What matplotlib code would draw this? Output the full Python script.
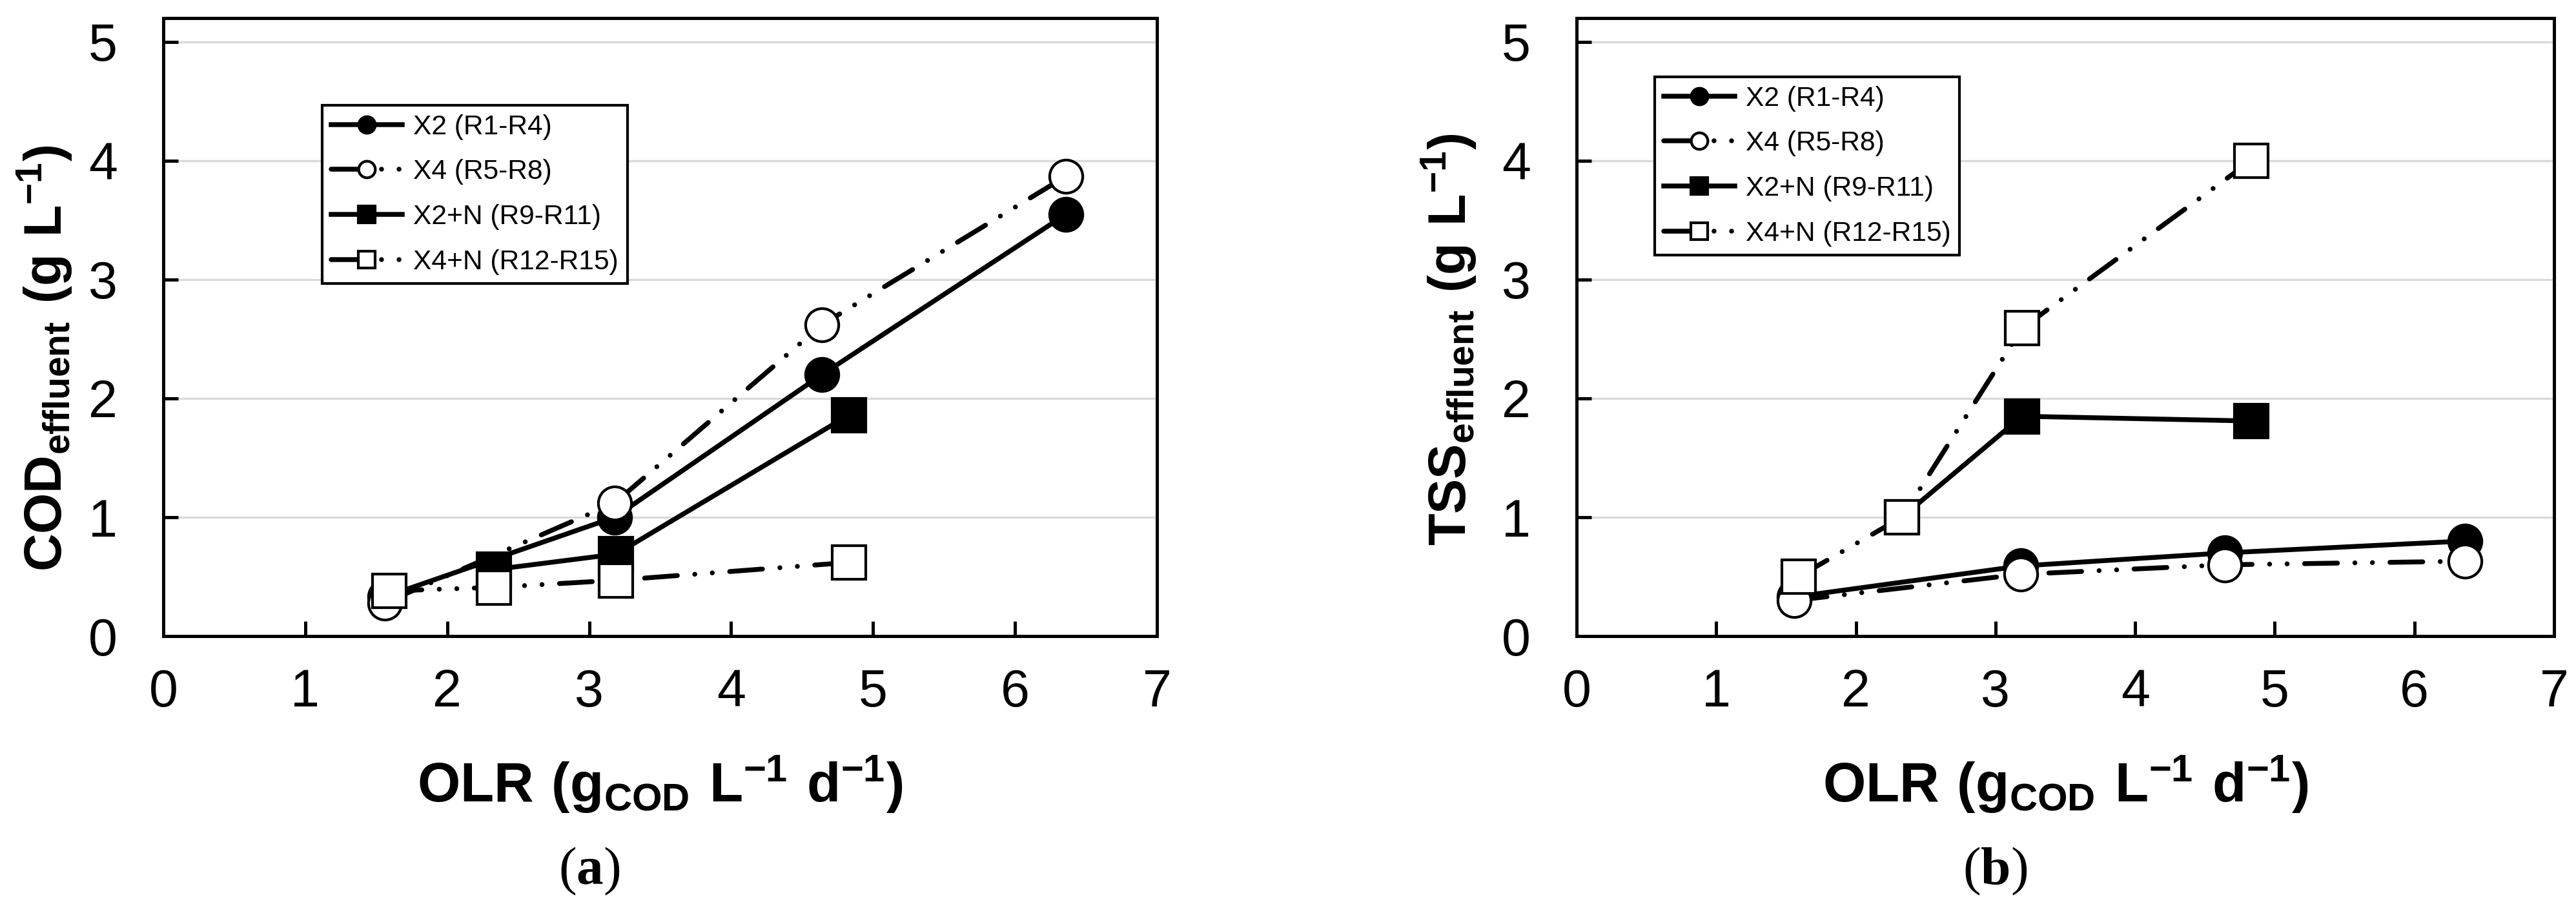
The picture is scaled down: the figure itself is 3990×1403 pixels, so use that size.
import matplotlib
matplotlib.use("Agg")
import matplotlib.pyplot as plt

plt.rcParams['font.family'] = ['Liberation Sans', 'DejaVu Sans']
plt.rcParams['mathtext.fontset'] = 'custom'
plt.rcParams['mathtext.rm'] = 'Liberation Sans'
plt.rcParams['mathtext.bf'] = 'Liberation Sans:bold'
plt.rcParams['mathtext.sf'] = 'Liberation Serif:bold'
plt.rcParams['lines.scale_dashes'] = False

# series labels
labels = ['X2 (R1-R4)', 'X4 (R5-R8)', 'X2+N (R9-R11)', 'X4+N (R12-R15)']

# OLR values (x) per series
olr_x2 = [1.56, 3.18, 4.64, 6.36]
olr_x4 = [1.56, 3.18, 4.64, 6.36]
olr_x2n = [2.33, 3.19, 4.83]
olr_x4n = [1.59, 2.33, 3.19, 4.83]

# (a) COD effluent, g/L
cod_x2 = [0.33, 1.00, 2.20, 3.55]
cod_x4 = [0.28, 1.12, 2.62, 3.87]
cod_x2n = [0.56, 0.69, 1.86]
cod_x4n = [0.38, 0.41, 0.47, 0.62]

# (b) TSS effluent, g/L
tss_x2 = [0.33, 0.59, 0.70, 0.80]
tss_x4 = [0.30, 0.52, 0.60, 0.63]
tss_x2n = [1.00, 1.85, 1.81]
tss_x4n = [0.50, 1.00, 2.59, 4.00]

xticks = [0, 1, 2, 3, 4, 5, 6, 7]
yticks = [0, 1, 2, 3, 4, 5]

dashdotdot = [12.2, 6.5, 0.01, 6.5, 0.01, 6.5]
lw = 1.8
ms = 12.3

fig = plt.figure(figsize=(13.3, 1403 / 300), dpi=300)
ax1 = fig.add_axes([0.0634, 0.2979, 0.3857, 0.6821])
ax2 = fig.add_axes([0.6120, 0.2979, 0.3795, 0.6821])


def draw(ax, ys):
    y_x2, y_x4, y_x2n, y_x4n = ys
    ax.plot(olr_x2, y_x2, '-', color='black', lw=lw, marker='o', ms=ms,
            mfc='black', mec='black', mew=1.0, label=labels[0])
    ax.plot(olr_x4, y_x4, color='black', lw=lw, dashes=dashdotdot,
            dash_capstyle='round', marker='o', ms=ms, mfc='white',
            mec='black', mew=1.0, label=labels[1])
    ax.plot(olr_x2n, y_x2n, '-', color='black', lw=lw, marker='s', ms=ms,
            mfc='black', mec='black', mew=1.0, label=labels[2])
    ax.plot(olr_x4n, y_x4n, color='black', lw=lw, dashes=dashdotdot,
            dash_capstyle='round', marker='s', ms=ms, mfc='white',
            mec='black', mew=1.0, label=labels[3])

    ax.set_xlim(0, 7)
    ax.set_ylim(0, 5.2)
    ax.set_xticks(xticks)
    ax.set_yticks(yticks)
    ax.yaxis.grid(True, color='#dadada', lw=0.8)
    ax.set_axisbelow(True)
    for sp in ax.spines.values():
        sp.set_linewidth(1.2)
    ax.tick_params(direction='in', length=5.5, width=1.2, labelsize=19.4)
    ax.tick_params(axis='x', pad=12)
    ax.tick_params(axis='y', pad=17)
    ax.set_xlabel(r'$\mathbf{OLR\ (g_{COD}\ L^{-1}\ d^{-1})}$', fontsize=20.5)
    ax.xaxis.set_label_coords(0.5, -0.19)


draw(ax1, [cod_x2, cod_x4, cod_x2n, cod_x4n])
draw(ax2, [tss_x2, tss_x4, tss_x2n, tss_x4n])

ax1.set_ylabel(r'$\mathbf{COD_{effluent}\ (g\ L^{-1})}$', fontsize=19.5)
ax1.yaxis.set_label_coords(-0.0897, 0.45)
ax2.set_ylabel(r'$\mathbf{TSS_{effluent}\ (g\ L^{-1})}$', fontsize=19.5)
ax2.yaxis.set_label_coords(-0.1004, 0.48)

legend_kw = dict(loc='upper left', borderaxespad=0, fancybox=False,
                 edgecolor='black', framealpha=1, fontsize=10.2,
                 handlelength=2.6, handletextpad=0.4, labelspacing=0.7,
                 borderpad=0.32, markerscale=0.5)
leg1 = ax1.legend(bbox_to_anchor=(0.160, 0.859), **legend_kw)
leg2 = ax2.legend(bbox_to_anchor=(0.080, 0.905), **legend_kw)
for leg in (leg1, leg2):
    leg.get_frame().set_linewidth(1.0)

fig.text(0.2288, 0.038, r'($\mathsf{a}$)', family='Liberation Serif',
         fontsize=20, ha='center', va='center')
fig.text(0.7744, 0.038, r'($\mathsf{b}$)', family='Liberation Serif',
         fontsize=20, ha='center', va='center')

fig.savefig('out.png', dpi=300, facecolor='white')
